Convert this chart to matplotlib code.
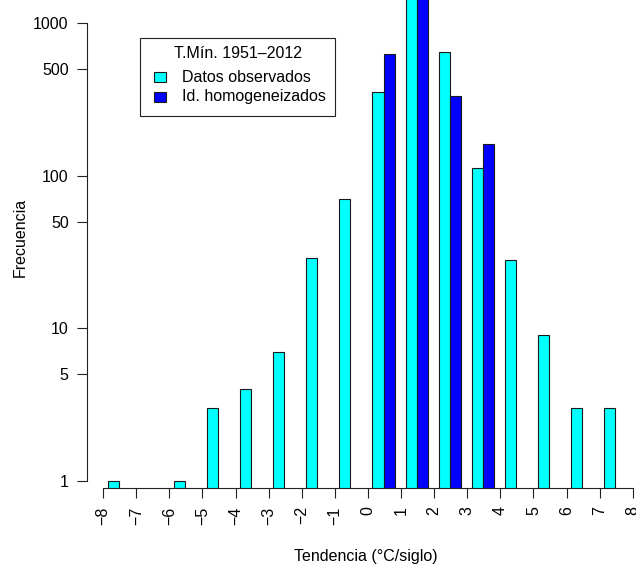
import numpy as np
import matplotlib
matplotlib.use("Agg")
import matplotlib.pyplot as plt
from matplotlib.patches import Rectangle

plt.rcParams['font.family'] = ['Liberation Sans', 'DejaVu Sans']

# Histogram of trends (degC/century), bins of width 1 from -8 to 8
bins = np.arange(-8, 8)
observed = [1, 0, 1, 3, 4, 7, 29, 70, 354, 1900, 645, 112, 28, 9, 3, 3]
homogenized = [0, 0, 0, 0, 0, 0, 0, 0, 626, 2100, 334, 161, 0, 0, 0, 0]
xticks = np.arange(-8, 9)
xtick_labels = ['\u2212%d' % abs(v) if v < 0 else str(v) for v in xticks]
yticks = [1, 5, 10, 50, 100, 500, 1000]
ytick_labels = ['1', '5', '10', '50', '100', '500', '1000']
legend_title = 'T.M\u00edn. 1951\u20132012'
legend_labels = ['Datos observados', 'Id. homogeneizados']

COLORS = {'obs': '#00FFFF', 'hom': '#0000FF', 'edge': '#1a1a1a'}
W, H = 636, 565
FS = 11.5


def fx(px):
    return px / W


def fy(py):
    return 1 - py / H


fig = plt.figure(figsize=(W / 100, H / 100), dpi=100)
ax = fig.add_axes([fx(87), fy(488), 1 - fx(87), 488 / H])

obs = np.array(observed, dtype=float)
hom = np.array(homogenized, dtype=float)
m = obs > 0
ax.bar(bins[m] + 0.135, obs[m], width=0.335, align='edge', color=COLORS['obs'],
       edgecolor=COLORS['edge'], linewidth=0.8)
m = hom > 0
ax.bar(bins[m] + 0.47, hom[m], width=0.34, align='edge', color=COLORS['hom'],
       edgecolor=COLORS['edge'], linewidth=0.8)

ax.set_yscale('log')
ax.set_ylim(0.9, 1415)
ax.set_xlim(-8.49, 8.10)

for s in ['top', 'right']:
    ax.spines[s].set_visible(False)
ax.spines['left'].set_bounds(1, 1000)
ax.spines['bottom'].set_bounds(-8, 8)
for s in ['left', 'bottom']:
    ax.spines[s].set_color('#222222')
    ax.spines[s].set_linewidth(0.8)

ax.set_yticks(yticks)
ax.set_yticklabels(ytick_labels)
ax.yaxis.set_minor_locator(matplotlib.ticker.NullLocator())
ax.set_xticks(xticks)
ax.set_xticklabels(xtick_labels, rotation=90)
ax.tick_params(axis='both', length=7.2, width=0.8, color='#222222',
               labelsize=FS, pad=6)

fig.text(fx(366), fy(556), 'Tendencia (\u00b0C/siglo)', ha='center',
         va='center', fontsize=FS)
fig.text(fx(20), fy(237), 'Frecuencia', ha='center', va='center',
         rotation=90, fontsize=FS)

# legend drawn in R style: framed box, title, filled squares
fig.add_artist(Rectangle((fx(140), fy(116)), fx(335) - fx(140), (116 - 38) / H,
                         transform=fig.transFigure, facecolor='white',
                         edgecolor='#222222', linewidth=0.8))
fig.text(fx(238), fy(53), legend_title, ha='center', va='center', fontsize=FS)
for i, (lab, col) in enumerate(zip(legend_labels, [COLORS['obs'], COLORS['hom']])):
    yc = 77 + 20 * i
    fig.add_artist(Rectangle((fx(154), fy(yc + 5)), 12 / W, 10 / H,
                             transform=fig.transFigure, facecolor=col,
                             edgecolor=COLORS['edge'], linewidth=0.8))
    fig.text(fx(182), fy(yc), lab, ha='left', va='center', fontsize=FS)

fig.savefig('out.png', dpi=100)
